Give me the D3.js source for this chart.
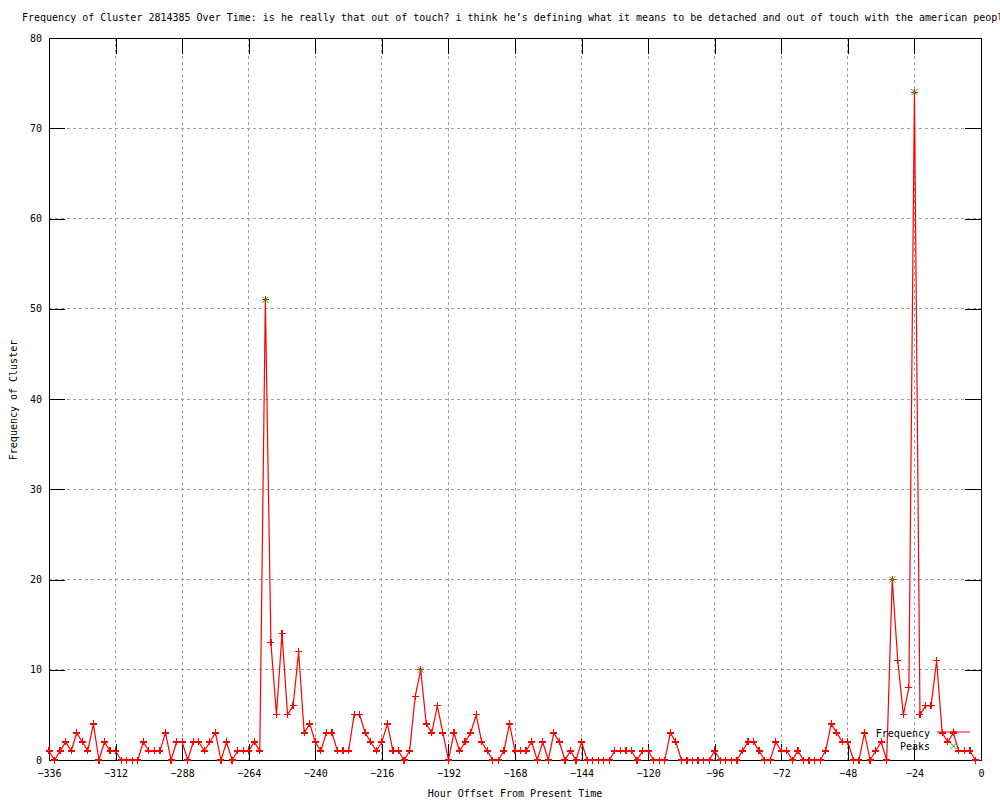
<!DOCTYPE html>
<html>
<head>
<meta charset="utf-8">
<script src="https://cdn.jsdelivr.net/npm/d3@7"></script>
<style>
  body { margin: 0; background: #fff; }
  svg { display: block; }
  text { font-family: "DejaVu Sans Mono", "Liberation Mono", monospace; font-size: 10px; fill: #000; }
</style>
</head>
<body>
<svg id="chart" width="1000" height="800"></svg>
<script>
// hours go from -336 to -2, one sample every 2 hours
const firstHour = -336;
const stepHours = 2;
const counts = [
  1, 0, 1, 2, 1, 3, 2, 1, 4, 0, 2, 1,        // -336 .. -314
  1, 0, 0, 0, 0, 2, 1, 1, 1, 3, 0, 2,        // -312 .. -290
  2, 0, 2, 2, 1, 2, 3, 0, 2, 0, 1, 1,        // -288 .. -266
  1, 2, 1, 51, 13, 5, 14, 5, 6, 12, 3, 4,    // -264 .. -242
  2, 1, 3, 3, 1, 1, 1, 5, 5, 3, 2, 1,        // -240 .. -218
  2, 4, 1, 1, 0, 1, 7, 10, 4, 3, 6, 3,       // -216 .. -194
  0, 3, 1, 2, 3, 5, 2, 1, 0, 0, 1, 4,        // -192 .. -170
  1, 1, 1, 2, 0, 2, 0, 3, 2, 0, 1, 0,        // -168 .. -146
  2, 0, 0, 0, 0, 0, 1, 1, 1, 1, 0, 1,        // -144 .. -122
  1, 0, 0, 0, 3, 2, 0, 0, 0, 0, 0, 0,        // -120 .. -98
  1, 0, 0, 0, 0, 1, 2, 2, 1, 0, 0, 2,        // -96 .. -74
  1, 1, 0, 1, 0, 0, 0, 0, 1, 4, 3, 2,        // -72 .. -50
  2, 0, 0, 3, 0, 1, 2, 0, 20, 11, 5, 8,      // -48 .. -26
  74, 5, 6, 6, 11, 3, 2, 3, 1, 1, 1, 0       // -24 .. -2
];
const peakHours = [-258, -202, -32, -24];

const xTicks = [-336, -312, -288, -264, -240, -216, -192, -168, -144, -120, -96, -72, -48, -24, 0];
const yTicks = [0, 10, 20, 30, 40, 50, 60, 70, 80];

const titleText = "Frequency of Cluster 2814385 Over Time: is he really that out of touch? i think he\u2019s defining what it means to be detached and out of touch with the american people";

const freq = counts.map((v, i) => ({ h: firstHour + i * stepHours, v: v }));
const peaks = freq.filter(d => peakHours.includes(d.h));

const plotL = 49, plotR = 981, plotT = 38, plotB = 760;
const x = d3.scaleLinear().domain([-336, 0]).range([plotL, plotR]);
const y = d3.scaleLinear().domain([0, 80]).range([plotB, plotT]);

const svg = d3.select("#chart");
svg.append("rect").attr("width", 1000).attr("height", 800).attr("fill", "#fff");

// grid
const grid = svg.append("g").attr("shape-rendering", "crispEdges");
grid.selectAll("line.gx").data(xTicks.slice(1, -1)).enter().append("line")
  .attr("x1", d => x(d)).attr("x2", d => x(d)).attr("y1", plotT).attr("y2", plotB)
  .attr("stroke", "#a0a0a0").attr("stroke-dasharray", "3,3");
grid.selectAll("line.gy").data(yTicks.slice(1, -1)).enter().append("line")
  .attr("y1", d => y(d)).attr("y2", d => y(d)).attr("x1", plotL).attr("x2", plotR)
  .attr("stroke", "#a0a0a0").attr("stroke-dasharray", "3,3");

// axes, ticks pointing inward and mirrored
function styleAxis(g) {
  g.attr("shape-rendering", "crispEdges");
  g.select(".domain").remove();
  g.selectAll(".tick line").attr("stroke", "#000");
  g.selectAll("text").style("font-family", "DejaVu Sans Mono").style("font-size", "10px");
}
svg.append("g").attr("transform", `translate(0,${plotB})`)
  .call(d3.axisBottom(x).tickValues(xTicks).tickSize(-16).tickPadding(10).tickFormat(d3.format("d")))
  .call(styleAxis);
svg.append("g").attr("transform", `translate(0,${plotT})`)
  .call(d3.axisTop(x).tickValues(xTicks).tickSize(-16).tickFormat(""))
  .call(styleAxis);
svg.append("g").attr("transform", `translate(${plotL},0)`)
  .call(d3.axisLeft(y).tickValues(yTicks).tickSize(-16).tickPadding(7))
  .call(styleAxis);
svg.append("g").attr("transform", `translate(${plotR},0)`)
  .call(d3.axisRight(y).tickValues(yTicks).tickSize(-16).tickFormat(""))
  .call(styleAxis);

svg.append("rect").attr("x", plotL).attr("y", plotT)
  .attr("width", plotR - plotL).attr("height", plotB - plotT)
  .attr("fill", "none").attr("stroke", "#000").attr("shape-rendering", "crispEdges");

// markers
const plus = (cx, cy) => `M${cx - 3.5},${cy}H${cx + 3.5}M${cx},${cy - 3.5}V${cy + 3.5}`;
const cross = (cx, cy) => `M${cx - 3},${cy - 3}L${cx + 3},${cy + 3}M${cx - 3},${cy + 3}L${cx + 3},${cy - 3}`;

const line = d3.line().x(d => x(d.h)).y(d => y(d.v));
svg.append("path").datum(freq).attr("d", line)
  .attr("fill", "none").attr("stroke", "#ff0000").attr("stroke-width", 1.2);
svg.append("g").selectAll("path").data(freq).enter().append("path")
  .attr("d", d => plus(x(d.h), y(d.v)))
  .attr("stroke", "#ff0000").attr("stroke-width", 1.2).attr("shape-rendering", "crispEdges");
svg.append("g").selectAll("path").data(peaks).enter().append("path")
  .attr("d", d => cross(x(d.h), y(d.v)))
  .attr("stroke", "#00c000").attr("stroke-width", 1);

// legend
const key = svg.append("g");
key.append("text").attr("x", 930).attr("y", 733).attr("dy", "0.35em").attr("text-anchor", "end").text("Frequency");
key.append("text").attr("x", 930).attr("y", 746).attr("dy", "0.35em").attr("text-anchor", "end").text("Peaks");
key.append("line").attr("x1", 937).attr("x2", 970).attr("y1", 732).attr("y2", 732)
  .attr("stroke", "#ff0000").attr("stroke-width", 1.2);
key.append("path").attr("d", plus(953.5, 732)).attr("stroke", "#ff0000").attr("stroke-width", 1.2);
key.append("path").attr("d", cross(953.5, 746)).attr("stroke", "#00c000");

// titles
svg.append("text").attr("x", 22).attr("y", 17).attr("dy", "0.35em").text(titleText);
svg.append("text").attr("x", 515).attr("y", 793).attr("dy", "0.35em").attr("text-anchor", "middle")
  .text("Hour Offset From Present Time");
svg.append("text").attr("transform", "translate(13,400) rotate(-90)").attr("dy", "0.35em")
  .attr("text-anchor", "middle").text("Frequency of Cluster");
</script>
</body>
</html>
